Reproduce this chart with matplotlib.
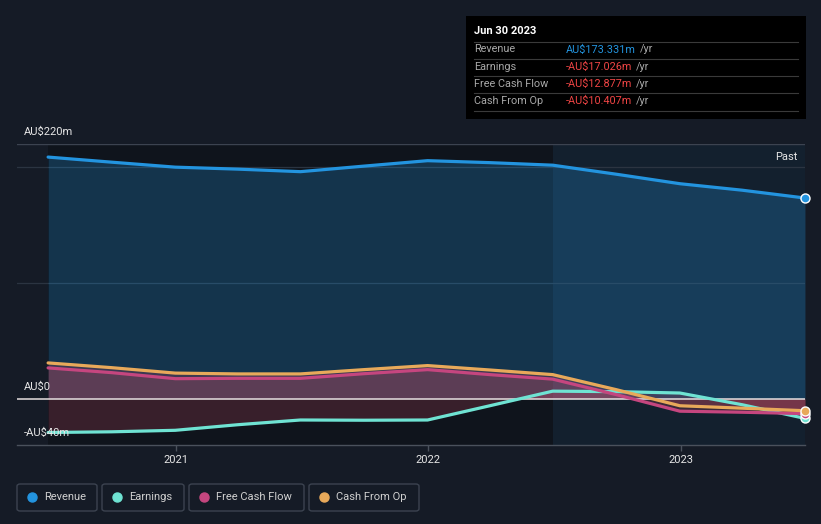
import numpy as np
import pandas as pd
import matplotlib

matplotlib.use('Agg')
import matplotlib.pyplot as plt
import matplotlib.dates as mdates
from matplotlib.patches import FancyBboxPatch, Rectangle
from matplotlib.transforms import blended_transform_factory, offset_copy

plt.rcParams['font.family'] = ['Roboto', 'DejaVu Sans']

# quarterly trailing-twelve-month values, AU$ millions
dates = pd.to_datetime([
    '2020-06-30', '2020-09-30', '2020-12-31', '2021-03-31', '2021-06-30',
    '2021-09-30', '2021-12-31', '2022-03-31', '2022-06-30', '2022-09-30',
    '2022-12-31', '2023-03-31', '2023-06-30'])
revenue = [208.7, 204.3, 200.0, 198.3, 196.1, 200.9, 205.6, 203.9, 201.7,
           193.9, 185.7, 180.1, 173.331]
earnings = [-29.2, -28.6, -27.3, -22.5, -18.4, -18.6, -18.4, -6.1, 6.5,
            6.1, 4.9, -5.2, -17.026]
free_cash_flow = [26.6, 22.5, 17.3, 17.6, 17.6, 21.6, 25.1, 20.8, 16.9,
                  3.5, -10.8, -11.7, -12.877]
cash_from_op = [30.9, 26.8, 22.1, 21.4, 21.4, 25.1, 28.6, 24.8, 20.8,
                7.8, -6.1, -8.2, -10.407]

series_names = ['Revenue', 'Earnings', 'Free Cash Flow', 'Cash From Op']
y_ticks = [-40, 0, 220]
y_tick_labels = ['-AU$40m', 'AU$0', 'AU$220m']
grid_vals = [100, 200]
year_ticks = ['2021', '2022', '2023']
past_start = pd.Timestamp('2022-06-30')

tooltip_title = 'Jun 30 2023'
tooltip_values = ['AU$173.331m', '-AU$17.026m', '-AU$12.877m', '-AU$10.407m']

BG = '#151b26'
C_REV = '#2394df'
C_EARN = '#6fe3d3'
C_FCF = '#c5467f'
C_CFO = '#e8a95a'
RED_FILL = '#e0506a'

W, H = 821, 524
fig = plt.figure(figsize=(W / 100, H / 100), dpi=100, facecolor=BG)
ax = fig.add_axes([17 / W, 1 - 445 / H, (805 - 17) / W, (445 - 144) / H])
ax.set_facecolor(BG)

x0 = pd.Timestamp('2020-05-16')
x1 = pd.Timestamp('2023-06-30')
ax.set_xlim(x0, x1)
ax.set_ylim(-40, 220)

# background bands: darker history band, lighter "Past" band
ax.axvspan(dates[0], past_start, color='#0f141c', zorder=0, lw=0)
ax.axvspan(past_start, x1, color='#13202e', zorder=0, lw=0)

# grid
for g in grid_vals:
    ax.axhline(g, color='#2b3441', lw=0.9, zorder=1)
ax.axhline(220, color='#3c4350', lw=1.0, zorder=1)

# area fills
ax.fill_between(dates, revenue, 0, color=C_REV, alpha=0.25, lw=0, zorder=2)
for s in (earnings, free_cash_flow, cash_from_op):
    ax.fill_between(dates, s, 0, color=RED_FILL, alpha=0.2, lw=0, zorder=2)

ax.axhline(0, color='#e6e0e0', lw=1.1, zorder=3)

# lines
ax.plot(dates, revenue, color=C_REV, lw=2.3, zorder=5, solid_capstyle='round')
ax.plot(dates, earnings, color=C_EARN, lw=2.3, zorder=5, solid_capstyle='round')
ax.plot(dates, free_cash_flow, color=C_FCF, lw=2.3, zorder=5, solid_capstyle='round')
ax.plot(dates, cash_from_op, color=C_CFO, lw=2.3, zorder=5, solid_capstyle='round')

# end markers
for s, c in ((earnings, C_EARN), (free_cash_flow, C_FCF), (cash_from_op, C_CFO), (revenue, C_REV)):
    ax.plot(dates[-1], s[-1], 'o', ms=6.5, mfc=c, mec='white', mew=1.0, zorder=6, clip_on=False)

# axes styling
for side in ('top', 'right', 'left'):
    ax.spines[side].set_visible(False)
ax.spines['bottom'].set_color('#4a515c')
ax.spines['bottom'].set_linewidth(1.0)
ax.set_yticks([])
ax.set_xticks([pd.Timestamp(y + '-01-01') for y in year_ticks])
ax.set_xticklabels(year_ticks)
ax.tick_params(axis='x', colors='#4a515c', length=4, width=1, labelcolor='#e6e6e6',
               labelsize=8, pad=3)

# y labels sit above their lines
trans = blended_transform_factory(ax.transAxes, ax.transData)
for v, lab in zip(y_ticks, y_tick_labels):
    ax.text(7 / 788, v, lab, transform=offset_copy(trans, fig=fig, x=0, y=12, units='dots'),
            color='#e6e6e6', fontsize=8, va='center', ha='left', zorder=7)

ax.text(0.99, 208.5, 'Past', color='#e6e6e6', fontsize=8, ha='right', va='center',
        transform=trans, zorder=7)

# tooltip box
def fx(px):
    return px / W


def fy(py):
    return 1 - py / H


fig.patches.append(Rectangle((fx(466), fy(119)), fx(806) - fx(466), fy(16) - fy(119),
                             transform=fig.transFigure, facecolor='black', edgecolor='none'))
fig.text(fx(474), fy(31), tooltip_title, color='white', fontsize=8, fontweight='bold', va='center')
row_y = [49.5, 66.5, 84, 101]
sep_y = [41.5, 58.5, 76, 93, 111]
for sy in sep_y:
    fig.add_artist(plt.Line2D([fx(474), fx(798)], [fy(sy), fy(sy)], color='#3a3a3a', lw=0.8,
                              transform=fig.transFigure))
val_colors = [C_REV, '#f04545', '#f04545', '#f04545']
for ry, name, val, vc in zip(row_y, series_names, tooltip_values, val_colors):
    fig.text(fx(474), fy(ry), name, color='#a8a8a8', fontsize=7.8, va='center')
    t = fig.text(fx(566), fy(ry), val, color=vc, fontsize=7.8, va='center')
    fig.canvas.draw()
    bb = t.get_window_extent()
    fig.text((bb.x1 + 4) / W, fy(ry), '/yr', color='#a8a8a8', fontsize=7.8, va='center')

# legend boxes
legend_boxes = [(17, 97), (102, 184), (189, 304), (309, 419)]
leg_colors = [C_REV, C_EARN, C_FCF, C_CFO]
for (bx0, bx1), name, c in zip(legend_boxes, series_names, leg_colors):
    fig.patches.append(FancyBboxPatch((fx(bx0), fy(511)), fx(bx1) - fx(bx0), fy(484) - fy(511),
                                      boxstyle='round,pad=0,rounding_size=0.004',
                                      transform=fig.transFigure, facecolor='none',
                                      edgecolor='#3c4350', lw=1.0))
    fig.add_artist(plt.Line2D([fx(bx0 + 15)], [fy(497)], marker='o', ms=6.5, mfc=c, mec=c,
                              transform=fig.transFigure))
    fig.text(fx(bx0 + 27), fy(497), name, color='#d0d0d0', fontsize=8, va='center')

fig.savefig('out.png', dpi=100, facecolor=BG)
